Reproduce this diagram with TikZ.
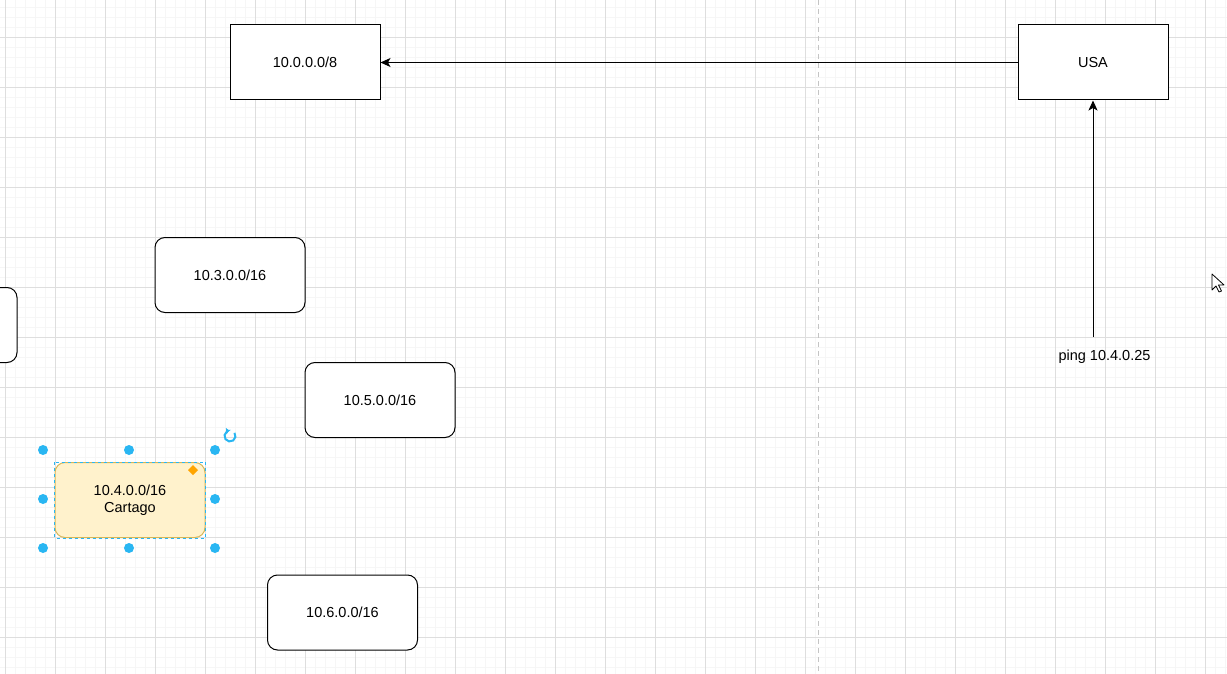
\documentclass[tikz,border=0pt]{standalone}
\usepackage{fontspec}
\setmainfont{Liberation Sans}
\usetikzlibrary{positioning}
\usetikzlibrary{arrows.meta}
\definecolor{gridminor}{HTML}{F6F6F6}
\definecolor{gridmajor}{HTML}{DEDEDE}
\definecolor{pagebreak}{HTML}{C4C4C4}
\definecolor{selblue}{HTML}{29B6F2}
\definecolor{notefill}{HTML}{FFF2CC}
\definecolor{notedraw}{HTML}{D6B656}
\definecolor{hintorange}{HTML}{FFA500}

\begin{document}
\begin{tikzpicture}[
        x=1pt, y=-1pt,
        font=\fontsize{14.5}{17.5}\selectfont,
        netbox/.style={rectangle, draw, line width=1pt, fill=white, minimum width=150pt, minimum height=75pt, inner sep=0pt, align=center},
        subnet/.style={netbox, rounded corners=10pt},
        cartago/.style={subnet, fill=notefill, draw=notedraw},
        selection/.style={draw=selblue, line width=0.8pt, dash pattern=on 3pt off 3pt},
        handle/.style={circle, fill=selblue, inner sep=0pt, minimum size=10pt},
        arrow/.style={line width=1pt,-{Stealth[length=10pt,width=9pt,inset=2.5pt]}},
        minorline/.style={gridminor, line width=0.8pt},
        majorline/.style={gridmajor, line width=0.8pt}
    ]
        \useasboundingbox (0,0) rectangle (1227,674);
        \clip (0,0) rectangle (1227,674);
        \fill[white] (0,0) rectangle (1227,674);

        % Raster
        \foreach \x in {5,15,...,1225} \draw[minorline] (\x,0) -- (\x,674);
        \foreach \y in {7,17,...,667} \draw[minorline] (0,\y) -- (1227,\y);
        \foreach \x in {5,55,...,1205} \draw[majorline] (\x,0) -- (\x,674);
        \foreach \y in {37,87,...,637} \draw[majorline] (0,\y) -- (1227,\y);
        \draw[pagebreak, line width=1pt, dash pattern=on 5pt off 4pt] (818,0) -- (818,674);

        % Netze
        \node[netbox] (net8) at (305,62.5) {10.0.0.0/8};
        \node[netbox] (usa) at (1093,62.5) {USA};
        \node[subnet] (net3) at (230,275) {10.3.0.0/16};
        \node[subnet] (netleft) at (-58,325) {};
        \node[subnet] (net5) at (380,400) {10.5.0.0/16};
        \node[cartago] (net4) at (130,500) {10.4.0.0/16\\Cartago};
        \node[subnet] (net6) at (342.5,612.5) {10.6.0.0/16};

        % Ping
        \coordinate (ping) at (1093,337);
        \node (pinglabel) at (1104.5,357) {ping 10.4.0.25};

        % Verbindungen
        \draw[arrow] (usa) -- (net8);
        \draw[arrow] (ping) -- (usa.south);

        % Auswahl
        \draw[selection] (net4.north west) rectangle (net4.south east);
        \foreach \hx in {43,129,215}
            \foreach \hy in {450,548}
                \node[handle] at (\hx,\hy) {};
        \node[handle] at (43,499) {};
        \node[handle] at (215,499) {};
        \fill[hintorange] (193,465) -- (198,470) -- (193,475) -- (188,470) -- cycle;
        \draw[selblue, line width=2pt, -{Triangle[length=3pt,width=6pt]}] (230,436) ++(-35:5.5) arc[start angle=-35, end angle=262, radius=5.5];

        % Mauszeiger
        \draw[fill=white, line width=0.8pt, line join=round] (1212,274) -- (1212,290) -- (1216,286) -- (1219,292) -- (1221.5,291) -- (1218.5,285) -- (1224,285) -- cycle;
    \end{tikzpicture}
\end{document}
